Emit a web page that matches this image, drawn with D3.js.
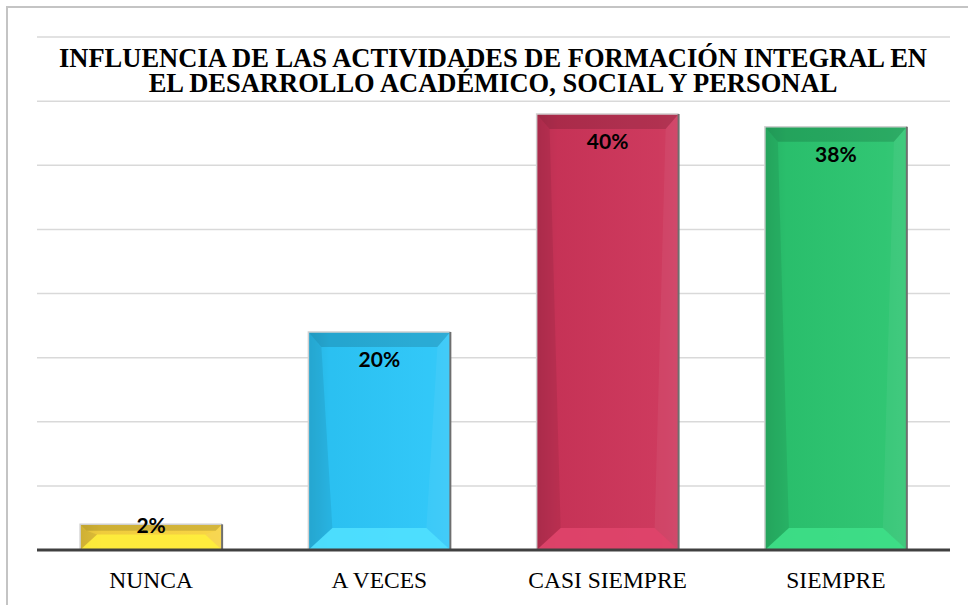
<!DOCTYPE html>
<html>
<head>
<meta charset="utf-8">
<script src="https://cdn.jsdelivr.net/npm/d3@7"></script>
<style>
  body { margin: 0; background: #fff; }
  svg { display: block; }
</style>
</head>
<body>
<svg id="chart" width="968" height="605"></svg>
<script>
// Chart data
var categories = ["NUNCA", "A VECES", "CASI SIEMPRE", "SIEMPRE"];
var counts = [2, 17, 34, 33];
var barColors = ["#f7d23e", "#2cc6f8", "#cc3459", "#2bc46f"];
var bevelLight = ["#fff03c", "#52e2ff", "#e0456c", "#3fe08a"];
var yTicks = [0, 5, 10, 15, 20, 25, 30, 35, 40];
var titleLines = [
    "INFLUENCIA DE LAS ACTIVIDADES DE FORMACIÓN INTEGRAL EN",
    "EL DESARROLLO ACADÉMICO, SOCIAL Y PERSONAL"
];

(function() {
var svg = d3.select("#chart");
var plotLeft = 37, plotRight = 950, plotTop = 37, plotBottom = 550;
var total = d3.sum(counts);

var x = d3.scaleBand()
    .domain(categories)
    .range([plotLeft, plotRight])
    .paddingInner(0.378)
    .paddingOuter(0.189);

var y = d3.scaleLinear()
    .domain([0, 40])
    .range([plotBottom, plotTop]);

// Outer frame (only top and left edges are visible in the crop)
svg.append("path")
    .attr("d", "M7,605 L7,7 L968,7")
    .attr("fill", "none")
    .attr("stroke", "#c4c4c4")
    .attr("stroke-width", 2);

// Gridlines
svg.append("g")
    .selectAll("line")
    .data(yTicks.slice(1))
    .join("line")
    .attr("x1", plotLeft)
    .attr("x2", plotRight)
    .attr("y1", function(d) { return y(d); })
    .attr("y2", function(d) { return y(d); })
    .attr("stroke", "#d9d9d9")
    .attr("stroke-width", 1.5);

// Title
svg.append("g")
    .selectAll("text")
    .data(titleLines)
    .join("text")
    .attr("x", 493)
    .attr("y", function(d, i) { return 67 + i * 25; })
    .attr("text-anchor", "middle")
    .attr("font-family", "'Liberation Serif', 'Times New Roman', serif")
    .attr("font-weight", "bold")
    .attr("font-size", 26.5)
    .attr("fill", "#000")
    .text(function(d) { return d; });

// Horizontal gradient for a little roundness on each bar
var defs = svg.append("defs");
var shade = defs.append("linearGradient")
    .attr("id", "shade")
    .attr("x1", 0).attr("x2", 1).attr("y1", 0).attr("y2", 0);
shade.append("stop").attr("offset", 0).attr("stop-color", "#000").attr("stop-opacity", 0.10);
shade.append("stop").attr("offset", 0.15).attr("stop-color", "#000").attr("stop-opacity", 0.03);
shade.append("stop").attr("offset", 0.85).attr("stop-color", "#fff").attr("stop-opacity", 0.03);
shade.append("stop").attr("offset", 1).attr("stop-color", "#fff").attr("stop-opacity", 0.06);

// Bars with bevel
var bars = svg.append("g")
    .selectAll("g")
    .data(categories)
    .join("g");

bars.each(function(cat, i) {
    var g = d3.select(this);
    var bx = x(cat);
    var bw = x.bandwidth();
    var by = y(counts[i]);
    var bh = plotBottom - by;
    var bt = Math.min(15, bh * 0.25);   // top bevel depth
    var bb = Math.min(22, bh * 0.6);    // bottom bevel depth
    var sideT = Math.min(13, bt);
    var sideB = Math.min(24, bb * 1.1);

    g.append("rect")
        .attr("x", bx).attr("y", by)
        .attr("width", bw).attr("height", bh)
        .attr("fill", barColors[i]);

    g.append("rect")
        .attr("x", bx).attr("y", by)
        .attr("width", bw).attr("height", bh)
        .attr("fill", "url(#shade)");

    function poly(pts, fill, op) {
        g.append("polygon")
            .attr("points", pts.map(function(p) { return p.join(","); }).join(" "))
            .attr("fill", fill)
            .attr("fill-opacity", op);
    }
    // top
    poly([[bx, by], [bx + bw, by], [bx + bw - sideT, by + bt], [bx + sideT, by + bt]], "#000", 0.14);
    // bottom
    poly([[bx, plotBottom], [bx + bw, plotBottom], [bx + bw - sideB, plotBottom - bb], [bx + sideB, plotBottom - bb]], bevelLight[i], 0.85);
    // left
    poly([[bx, by], [bx + sideT, by + bt], [bx + sideB, plotBottom - bb], [bx, plotBottom]], "#000", 0.07);
    // right
    poly([[bx + bw, by], [bx + bw - sideT, by + bt], [bx + bw - sideB, plotBottom - bb], [bx + bw, plotBottom]], "#fff", 0.05);

    // outline: light on top, dark on right side
    g.append("path")
        .attr("d", "M" + bx + "," + plotBottom + " L" + bx + "," + by + " L" + (bx + bw) + "," + by)
        .attr("fill", "none")
        .attr("stroke", "#d0d0d0")
        .attr("stroke-width", 1.5);
    g.append("line")
        .attr("x1", bx + bw).attr("x2", bx + bw)
        .attr("y1", by).attr("y2", plotBottom)
        .attr("stroke", "#6e6e6e")
        .attr("stroke-width", 2);
});

// Value labels
svg.append("g")
    .selectAll("text")
    .data(categories)
    .join("text")
    .attr("x", function(d) { return x(d) + x.bandwidth() / 2; })
    .attr("y", function(d, i) {
        var by = y(counts[i]);
        return (plotBottom - by > 45 ? by + 28 : by + 1) + 7.5;
    })
    .attr("text-anchor", "middle")
    .attr("font-family", "Lato, 'Liberation Sans', sans-serif")
    .attr("font-weight", "bold")
    .attr("font-size", 21)
    .attr("fill", "#000")
    .text(function(d, i) { return Math.round(counts[i] / total * 100) + "%"; });

// Baseline
svg.append("line")
    .attr("x1", plotLeft).attr("x2", plotRight)
    .attr("y1", plotBottom).attr("y2", plotBottom)
    .attr("stroke", "#404040")
    .attr("stroke-width", 3);

// Category axis
var xAxis = svg.append("g")
    .attr("transform", "translate(0," + plotBottom + ")")
    .call(d3.axisBottom(x).tickSize(0).tickPadding(0));
xAxis.select(".domain").remove();
xAxis.selectAll("text")
    .attr("y", 38)
    .attr("dy", 0)
    .attr("font-family", "'Liberation Serif', 'Times New Roman', serif")
    .attr("font-size", 23.5)
    .attr("fill", "#000");
})();
</script>
</body>
</html>
